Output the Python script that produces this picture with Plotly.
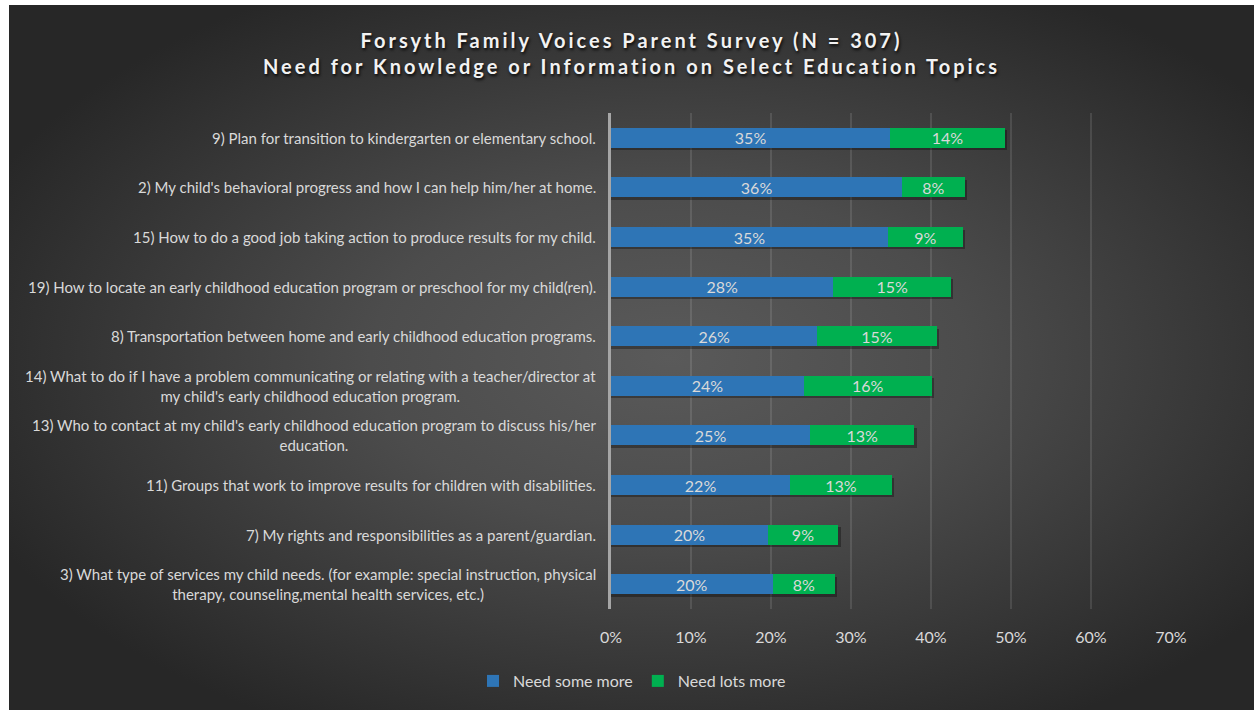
import base64
import plotly.graph_objects as go

# Survey topics (top to bottom) and share of parents answering each level
topics = [
    "9) Plan for transition to kindergarten or elementary school.",
    "2) My child's behavioral progress and how I can help him/her at home.",
    "15) How to do a good job taking action to produce results for my child.",
    "19) How to locate an early childhood education program or preschool for my child(ren).",
    "8) Transportation between home and early childhood education programs.",
    "14) What to do if I have a problem communicating or relating with a teacher/director at<br>my child's early childhood education program.",
    "13) Who to contact at my child's early childhood education program to discuss his/her<br>education.",
    "11) Groups that work to improve results for children with disabilities.",
    "7) My rights and responsibilities as a parent/guardian.",
    "3) What type of services my child needs. (for example: special instruction, physical<br>therapy, counseling,mental health services, etc.)",
]
need_some_more = [0.349, 0.364, 0.346, 0.278, 0.258, 0.241, 0.249, 0.224, 0.196, 0.202]
need_lots_more = [0.143, 0.078, 0.094, 0.147, 0.149, 0.160, 0.130, 0.127, 0.088, 0.078]
x_ticks = [0, 0.1, 0.2, 0.3, 0.4, 0.5, 0.6, 0.7]

W, H = 1254, 710
FONT = "Lato"
LIGHT = "#d9d9d9"
BAR_W = 0.4

# dark radial-gradient card behind the whole chart
svg = (
    '<svg xmlns="http://www.w3.org/2000/svg" width="1245" height="705" '
    'viewBox="0 0 1245 705" preserveAspectRatio="none"><defs>'
    '<radialGradient id="g" cx="0.53" cy="0.5" r="0.6">'
    '<stop offset="0" stop-color="#5a5a5a"/>'
    '<stop offset="0.4" stop-color="#4c4c4c"/>'
    '<stop offset="1" stop-color="#272727"/>'
    '</radialGradient></defs>'
    '<rect width="1245" height="705" fill="url(#g)"/></svg>'
)
bg_src = "data:image/svg+xml;base64," + base64.b64encode(svg.encode()).decode()

ids = list(range(len(topics)))
totals = [a + b for a, b in zip(need_some_more, need_lots_more)]

bar_text = dict(
    texttemplate="%{x:.0%}", textposition="inside", insidetextanchor="middle",
    constraintext="none", textangle=0,
    textfont=dict(family=FONT, size=16, color=LIGHT),
)

fig = go.Figure()
# soft drop shadow under each stacked bar
fig.add_trace(go.Bar(
    y=[i + 0.05 for i in ids], x=[t + 0.003 for t in totals], orientation="h",
    width=BAR_W, marker=dict(color="rgba(0,0,0,0.32)", line=dict(width=0)),
    showlegend=False, hoverinfo="skip",
))
fig.add_trace(go.Bar(
    y=ids, x=need_some_more, orientation="h", name="Need some more", width=BAR_W,
    marker=dict(color="#2e75b6", line=dict(width=0)), **bar_text,
))
fig.add_trace(go.Bar(
    y=ids, x=need_lots_more, orientation="h", name="Need lots more", width=BAR_W,
    marker=dict(color="#00b050", line=dict(width=0)), **bar_text,
))

# category labels, right-aligned to the axis with centred wrapped lines
for i, t in enumerate(topics):
    fig.add_annotation(
        x=-13 / 560, xref="paper", y=i, yref="y", text=t, showarrow=False,
        xanchor="right", yanchor="middle", align="center",
        font=dict(family=FONT, size=15, color=LIGHT),
    )

fig.update_layout(
    width=W, height=H,
    margin=dict(l=611, r=83, t=113, b=101),
    barmode="stack",
    paper_bgcolor="white", plot_bgcolor="rgba(0,0,0,0)",
    font=dict(family=FONT, color=LIGHT),
    showlegend=True,
    uniformtext=dict(mode=False),
    images=[dict(
        source=bg_src, xref="paper", yref="paper",
        x=(9 - 611) / 560, y=1 + 108 / 496,
        sizex=1245 / 560, sizey=705 / 496,
        xanchor="left", yanchor="top", sizing="stretch", layer="below",
    )],
    title=dict(
        text=(
            '<span style="letter-spacing:3px">Forsyth Family Voices Parent Survey (N = 307)</span><br>'
            '<span style="letter-spacing:3px">Need for Knowledge or Information on Select Education Topics</span>'
        ),
        x=631.5 / W, xanchor="center", xref="container",
        y=1 - 48 / H, yanchor="top", yref="container",
        font=dict(family=FONT, size=20, color="#f2f2f2", weight="bold",
                  shadow="1px 2px 3px rgba(0,0,0,0.85)"),
    ),
    legend=dict(
        orientation="h", xref="container", yref="container", traceorder="normal",
        x=632 / W, xanchor="center", y=1 - 681 / H, yanchor="middle",
        font=dict(family=FONT, size=16, color=LIGHT),
        bgcolor="rgba(0,0,0,0)", itemwidth=30, tracegroupgap=0,
    ),
    xaxis=dict(
        range=[0, 0.7], tickvals=x_ticks, tickformat=".0%",
        showgrid=True, gridcolor="rgba(255,255,255,0.11)", gridwidth=2,
        zeroline=False, showline=False,
        ticks="outside", ticklen=14, tickcolor="rgba(0,0,0,0)",
        tickfont=dict(family=FONT, size=16, color=LIGHT),
    ),
    yaxis=dict(
        range=[len(topics) - 0.5, -0.5], tickvals=ids, showticklabels=False,
        showgrid=False, zeroline=False,
        showline=True, linecolor="#a6a6a6", linewidth=2.5,
    ),
)

fig.write_html("out.html")
